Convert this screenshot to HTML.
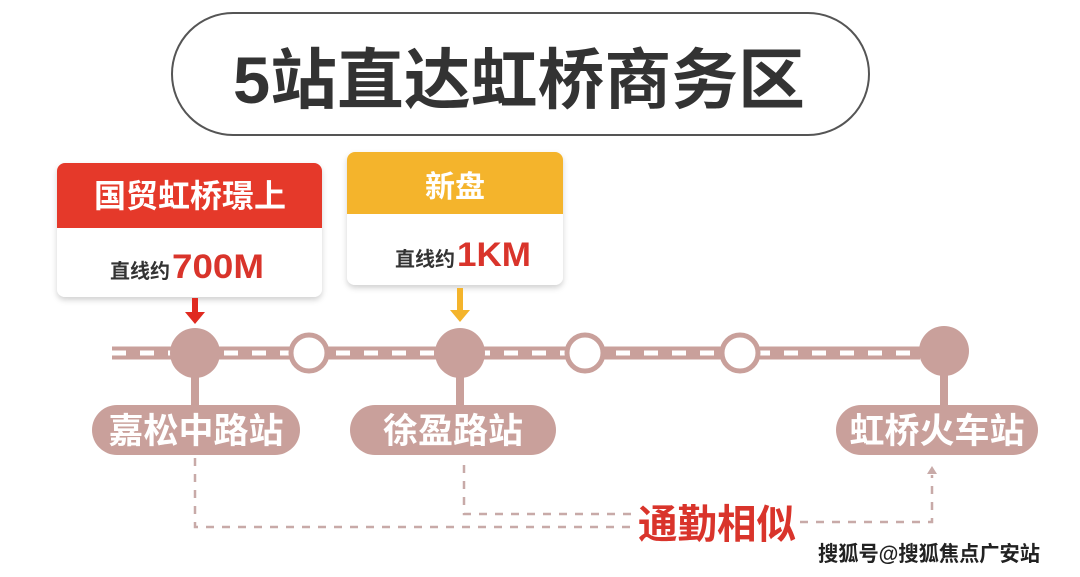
<!DOCTYPE html>
<html><head><meta charset="utf-8"><style>
html,body{margin:0;padding:0;background:#fff;width:1080px;height:577px;overflow:hidden}
svg{display:block}
text{font-family:"Liberation Sans","Noto Sans CJK SC",sans-serif;font-weight:bold}
</style></head><body>
<svg width="1080" height="577" viewBox="0 0 1080 577">
<defs><filter id="sh" x="-10%" y="-10%" width="120%" height="130%"><feDropShadow dx="0" dy="3" stdDeviation="3" flood-color="#000" flood-opacity="0.18"/></filter></defs>
<rect x="172" y="13" width="697" height="122" rx="61" fill="#fff" stroke="#555" stroke-width="2"/>
<text x="233" y="103" font-size="66" fill="#333" textLength="572" lengthAdjust="spacingAndGlyphs">5站直达虹桥商务区</text>

<g filter="url(#sh)">
<rect x="57" y="163" width="265" height="134" rx="8" fill="#fff"/>
<rect x="347" y="152" width="216" height="133" rx="8" fill="#fff"/>
</g>
<path d="M57 171a8 8 0 0 1 8-8h249a8 8 0 0 1 8 8v57H57z" fill="#e5392a"/>
<path d="M347 160a8 8 0 0 1 8-8h200a8 8 0 0 1 8 8v54H347z" fill="#f4b42c"/>
<text x="190" y="207" font-size="32" fill="#fff" text-anchor="middle">国贸虹桥璟上</text>
<text x="455" y="197" font-size="30" fill="#fff" text-anchor="middle">新盘</text>
<text x="110" y="278" font-size="20" fill="#333">直线约<tspan font-size="34" fill="#d9342b" dx="2" textLength="92" lengthAdjust="spacingAndGlyphs">700M</tspan></text>
<text x="395" y="266" font-size="20" fill="#333">直线约<tspan font-size="34" fill="#d9342b" dx="2" textLength="74" lengthAdjust="spacingAndGlyphs">1KM</tspan></text>
<path d="M192 298h6v14h7l-10 12-10-12h7z" fill="#e02a20"/>
<path d="M457 288h6v22h7l-10 12-10-12h7z" fill="#f4b42c"/>

<line x1="112" y1="353" x2="920" y2="353" stroke="#c9a09b" stroke-width="13"/>
<line x1="112" y1="353" x2="920" y2="353" stroke="#fff" stroke-width="5" stroke-dasharray="14 14"/>
<g fill="#c9a09b">
<circle cx="195" cy="353" r="25"/><circle cx="460" cy="353" r="25"/><circle cx="944" cy="351" r="25"/>
<rect x="191" y="370" width="8" height="40"/><rect x="456" y="370" width="8" height="40"/><rect x="940" y="370" width="8" height="40"/>
<rect x="92" y="405" width="208" height="50" rx="25"/>
<rect x="350" y="405" width="206" height="50" rx="25"/>
<rect x="836" y="405" width="202" height="50" rx="25"/>
</g>
<g fill="#fff" stroke="#c9a09b" stroke-width="5">
<circle cx="309" cy="353" r="18"/><circle cx="585" cy="353" r="18"/><circle cx="740" cy="353" r="18"/>
</g>
<g font-size="35" fill="#fff" text-anchor="middle">
<text x="196" y="443">嘉松中路站</text>
<text x="453" y="443">徐盈路站</text>
<text x="937" y="443">虹桥火车站</text>
</g>
<g fill="none" stroke="#c8aaa8" stroke-width="2.5" stroke-dasharray="8 8">
<path d="M195 458V527H635"/>
<path d="M464 465V514H635"/>
<path d="M800 522H932V475"/>
</g>
<path d="M932 466l-5 8h10z" fill="#c8aaa8"/>
<text x="638" y="538" font-size="40" fill="#d9342b" textLength="158" lengthAdjust="spacingAndGlyphs">通勤相似</text>
<text x="818" y="561" font-size="21" fill="#222" stroke="#fff" stroke-width="3" paint-order="stroke" font-weight="normal" textLength="222" lengthAdjust="spacingAndGlyphs">搜狐号@搜狐焦点广安站</text>
</svg>
</body></html>
